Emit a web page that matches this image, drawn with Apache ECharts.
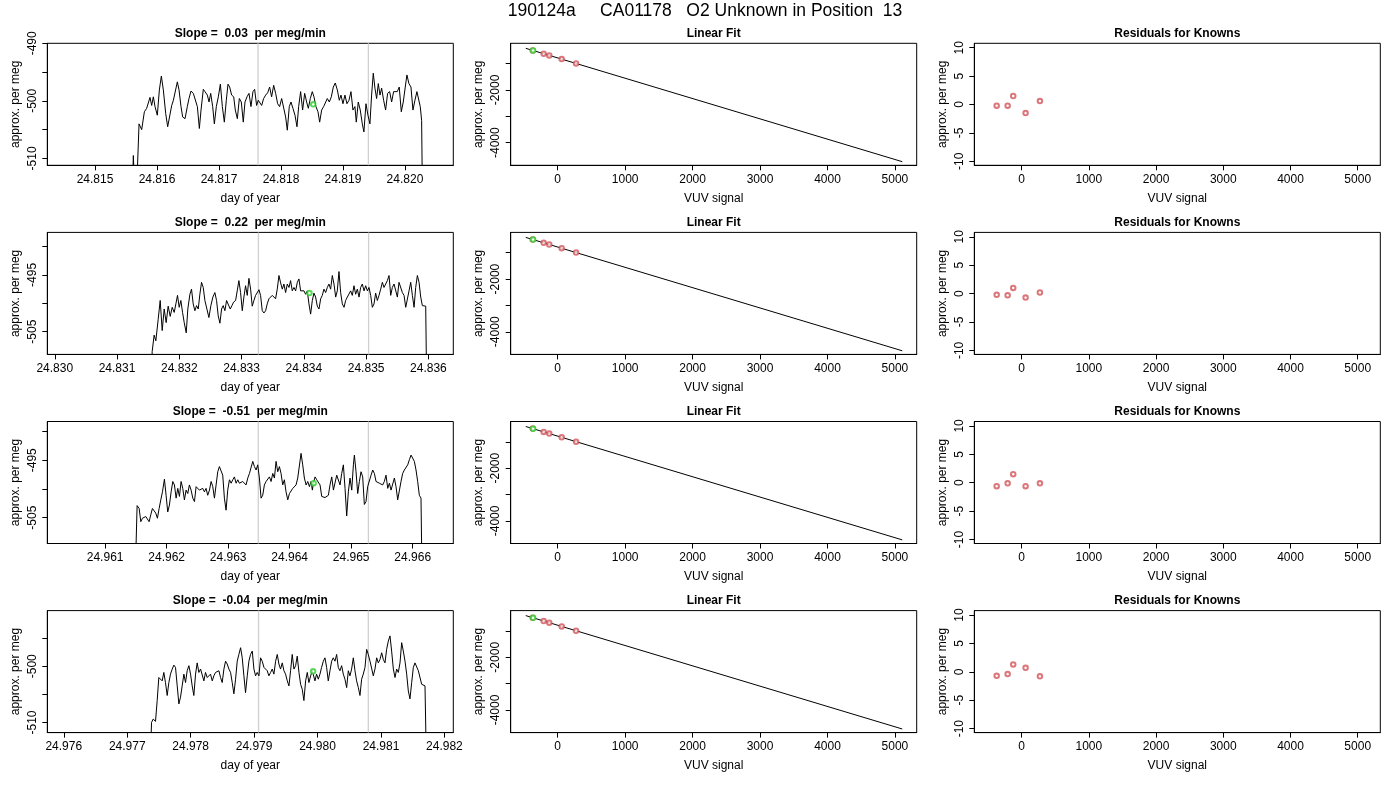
<!DOCTYPE html>
<html><head><meta charset="utf-8">
<script src="https://cdn.jsdelivr.net/npm/echarts@6/dist/echarts.min.js"></script>
<style>html,body{margin:0;padding:0;background:#fff}#c{width:1400px;height:800px}</style>
</head><body><div id="c"></div>
<script>
const FONT = '"Liberation Sans", Arial, Helvetica, sans-serif';
const mainTitle = '190124a     CA01178   O2 Unknown in Position  13';
const slopeTitles = ['Slope =  0.03  per meg/min', 'Slope =  0.22  per meg/min', 'Slope =  -0.51  per meg/min', 'Slope =  -0.04  per meg/min'];

// time series: [day of year, approx. per meg]
const series1 = [[24.815592,-520],[24.815618,-509.5],[24.815656,-520],[24.815710,-504.0],[24.815753,-505.0],[24.815796,-501.9],[24.815833,-501.3],[24.815860,-501.3],[24.815887,-499.4],[24.815914,-500.8],[24.815941,-499.3],[24.815968,-501.0],[24.816005,-502.5],[24.816038,-498.1],[24.816070,-495.7],[24.816102,-498.1],[24.816140,-502.2],[24.816172,-504.5],[24.816199,-504.4],[24.816237,-500.8],[24.816264,-499.9],[24.816290,-500.2],[24.816328,-496.7],[24.816355,-498.1],[24.816387,-501.0],[24.816414,-502.8],[24.816452,-503.1],[24.816489,-501.0],[24.816516,-499.6],[24.816548,-498.3],[24.816586,-498.7],[24.816613,-498.6],[24.816651,-501.0],[24.816683,-504.8],[24.816710,-501.6],[24.816747,-498.0],[24.816774,-498.4],[24.816812,-499.0],[24.816839,-500.2],[24.816866,-498.7],[24.816898,-501.0],[24.816925,-504.0],[24.816957,-501.0],[24.816989,-499.3],[24.817022,-497.1],[24.817054,-501.0],[24.817086,-503.7],[24.817118,-499.9],[24.817145,-497.1],[24.817172,-497.6],[24.817204,-499.0],[24.817237,-499.3],[24.817263,-501.6],[24.817296,-503.1],[24.817328,-499.6],[24.817360,-500.2],[24.817392,-503.7],[24.817419,-500.2],[24.817452,-499.3],[24.817484,-498.7],[24.817516,-501.0],[24.817548,-498.4],[24.817575,-498.0],[24.817607,-500.8],[24.817634,-499.9],[24.817661,-499.6],[24.817688,-500.8],[24.817720,-499.6],[24.817753,-499.0],[24.817785,-498.6],[24.817817,-497.6],[24.817849,-499.3],[24.817882,-497.3],[24.817914,-498.7],[24.817946,-500.5],[24.817978,-501.0],[24.818011,-499.6],[24.818043,-499.9],[24.818075,-502.8],[24.818102,-505.1],[24.818134,-501.0],[24.818161,-500.2],[24.818193,-501.3],[24.818226,-502.5],[24.818258,-504.5],[24.818285,-501.0],[24.818317,-498.4],[24.818349,-501.6],[24.818382,-498.7],[24.818414,-500.2],[24.818441,-501.3],[24.818473,-499.6],[24.818505,-498.4],[24.818532,-499.3],[24.818564,-501.0],[24.818597,-501.9],[24.818624,-503.7],[24.818656,-501.6],[24.818688,-501.0],[24.818720,-501.0],[24.818747,-499.6],[24.818780,-500.2],[24.818812,-499.3],[24.818844,-497.6],[24.818876,-496.9],[24.818909,-498.1],[24.818941,-499.9],[24.818968,-499.0],[24.819000,-500.5],[24.819032,-499.0],[24.819064,-500.5],[24.819097,-499.9],[24.819129,-498.4],[24.819161,-501.6],[24.819193,-501.0],[24.819215,-503.7],[24.819247,-500.2],[24.819279,-501.6],[24.819312,-504.0],[24.819338,-505.4],[24.819371,-500.5],[24.819403,-502.5],[24.819435,-504.0],[24.819462,-499.0],[24.819489,-495.2],[24.819516,-497.8],[24.819543,-499.6],[24.819570,-497.0],[24.819597,-499.0],[24.819624,-497.8],[24.819656,-499.9],[24.819688,-501.6],[24.819720,-498.7],[24.819753,-498.4],[24.819785,-500.2],[24.819817,-498.4],[24.819849,-498.7],[24.819876,-498.4],[24.819908,-497.6],[24.819941,-501.9],[24.819973,-500.2],[24.820005,-497.6],[24.820032,-495.5],[24.820064,-497.0],[24.820097,-497.6],[24.820129,-501.6],[24.820161,-499.9],[24.820193,-498.4],[24.820215,-498.7],[24.820247,-501.0],[24.820269,-503.4],[24.820285,-520]];

const series2 = [[24.831543,-520],[24.831564,-508.5],[24.831596,-505.6],[24.831623,-506.6],[24.831661,-502.8],[24.831693,-499.5],[24.831725,-504.8],[24.831757,-501.0],[24.831789,-503.4],[24.831821,-500.5],[24.831854,-502.3],[24.831886,-500.7],[24.831918,-501.6],[24.831945,-500.1],[24.831971,-498.6],[24.831998,-500.7],[24.832025,-499.5],[24.832052,-501.6],[24.832079,-503.4],[24.832111,-505.2],[24.832137,-501.0],[24.832170,-498.4],[24.832196,-497.5],[24.832223,-500.1],[24.832250,-501.3],[24.832277,-500.4],[24.832304,-501.0],[24.832330,-498.4],[24.832357,-496.3],[24.832384,-497.2],[24.832411,-499.5],[24.832443,-501.0],[24.832475,-502.5],[24.832507,-500.4],[24.832539,-498.9],[24.832571,-498.1],[24.832598,-499.5],[24.832625,-502.2],[24.832652,-503.5],[24.832679,-501.0],[24.832705,-500.4],[24.832732,-501.3],[24.832759,-499.5],[24.832791,-499.5],[24.832818,-501.0],[24.832845,-500.4],[24.832871,-499.8],[24.832904,-499.5],[24.832930,-497.8],[24.832957,-496.0],[24.832984,-498.1],[24.833011,-501.3],[24.833037,-498.9],[24.833064,-496.9],[24.833091,-498.6],[24.833118,-495.6],[24.833145,-497.5],[24.833171,-500.5],[24.833198,-499.5],[24.833225,-498.6],[24.833252,-498.9],[24.833279,-497.6],[24.833305,-498.6],[24.833332,-501.3],[24.833359,-501.7],[24.833386,-501.3],[24.833412,-500.1],[24.833439,-499.2],[24.833466,-499.5],[24.833493,-498.6],[24.833520,-498.9],[24.833546,-499.2],[24.833573,-497.5],[24.833600,-495.1],[24.833627,-496.4],[24.833654,-497.5],[24.833680,-496.6],[24.833707,-498.1],[24.833734,-496.6],[24.833761,-497.2],[24.833787,-496.0],[24.833814,-497.8],[24.833841,-497.2],[24.833868,-497.8],[24.833895,-496.3],[24.833921,-495.7],[24.833948,-497.8],[24.833975,-497.5],[24.834002,-497.8],[24.834028,-498.4],[24.834055,-497.8],[24.834082,-500.1],[24.834109,-501.9],[24.834136,-499.5],[24.834162,-498.2],[24.834189,-498.9],[24.834216,-500.5],[24.834243,-501.0],[24.834270,-499.2],[24.834296,-498.6],[24.834323,-497.5],[24.834350,-498.1],[24.834377,-497.2],[24.834403,-496.6],[24.834430,-497.5],[24.834457,-495.1],[24.834484,-496.6],[24.834511,-498.9],[24.834537,-497.8],[24.834564,-494.4],[24.834591,-498.1],[24.834618,-500.1],[24.834645,-500.7],[24.834671,-499.5],[24.834698,-498.9],[24.834725,-498.6],[24.834752,-497.8],[24.834778,-498.6],[24.834805,-496.9],[24.834832,-498.4],[24.834859,-497.5],[24.834886,-498.9],[24.834912,-497.2],[24.834939,-496.6],[24.834966,-497.8],[24.834993,-496.9],[24.835020,-497.8],[24.835046,-497.2],[24.835073,-498.6],[24.835100,-500.7],[24.835127,-500.1],[24.835153,-498.2],[24.835180,-499.5],[24.835207,-498.6],[24.835234,-497.5],[24.835261,-496.3],[24.835287,-497.2],[24.835314,-496.6],[24.835341,-496.0],[24.835368,-495.1],[24.835395,-498.6],[24.835421,-497.2],[24.835448,-496.6],[24.835475,-496.3],[24.835502,-498.9],[24.835528,-496.3],[24.835555,-496.6],[24.835582,-498.1],[24.835609,-498.6],[24.835636,-500.7],[24.835662,-501.0],[24.835689,-497.8],[24.835716,-496.3],[24.835743,-498.6],[24.835770,-500.7],[24.835796,-497.2],[24.835823,-495.1],[24.835850,-496.3],[24.835877,-498.9],[24.835903,-500.4],[24.835930,-500.1],[24.835957,-500.5],[24.835978,-520]];

const series3 = [[24.961477,-520],[24.961520,-502.9],[24.961553,-503.4],[24.961580,-505.7],[24.961607,-505.1],[24.961634,-505.4],[24.961661,-504.8],[24.961688,-504.5],[24.961715,-505.7],[24.961742,-504.5],[24.961769,-503.4],[24.961796,-503.1],[24.961823,-504.2],[24.961850,-505.1],[24.961878,-503.4],[24.961905,-501.9],[24.961932,-500.5],[24.961964,-498.3],[24.961991,-501.1],[24.962018,-504.0],[24.962045,-502.8],[24.962073,-500.5],[24.962100,-498.7],[24.962127,-499.3],[24.962154,-501.6],[24.962181,-499.9],[24.962208,-501.3],[24.962235,-498.7],[24.962262,-499.9],[24.962289,-501.9],[24.962316,-500.2],[24.962343,-500.8],[24.962370,-499.3],[24.962398,-500.2],[24.962425,-501.6],[24.962452,-502.2],[24.962479,-499.6],[24.962506,-499.9],[24.962533,-500.2],[24.962560,-500.2],[24.962587,-499.9],[24.962614,-500.5],[24.962641,-499.9],[24.962668,-501.1],[24.962696,-500.2],[24.962723,-498.7],[24.962750,-499.6],[24.962777,-501.6],[24.962804,-499.3],[24.962831,-497.0],[24.962858,-496.1],[24.962885,-495.8],[24.962912,-497.6],[24.962939,-501.6],[24.962966,-503.7],[24.962993,-500.2],[24.963021,-498.4],[24.963048,-499.0],[24.963075,-498.4],[24.963102,-497.9],[24.963129,-499.0],[24.963156,-498.4],[24.963183,-499.0],[24.963210,-498.7],[24.963237,-498.7],[24.963264,-499.0],[24.963291,-499.3],[24.963319,-498.1],[24.963346,-497.3],[24.963373,-497.0],[24.963400,-495.2],[24.963427,-496.1],[24.963454,-496.7],[24.963481,-495.8],[24.963508,-498.1],[24.963535,-501.6],[24.963562,-501.1],[24.963589,-499.3],[24.963616,-498.7],[24.963644,-498.4],[24.963671,-497.9],[24.963698,-498.7],[24.963725,-497.3],[24.963752,-498.1],[24.963779,-495.2],[24.963806,-497.0],[24.963833,-496.1],[24.963860,-497.3],[24.963887,-499.3],[24.963914,-498.4],[24.963941,-500.5],[24.963969,-501.9],[24.963996,-500.8],[24.964023,-500.5],[24.964050,-499.9],[24.964077,-500.2],[24.964104,-499.3],[24.964131,-498.1],[24.964158,-498.4],[24.964185,-493.8],[24.964212,-495.8],[24.964239,-498.1],[24.964267,-499.3],[24.964294,-498.7],[24.964321,-499.6],[24.964348,-498.7],[24.964369,-500.2],[24.964386,-499.0],[24.964413,-497.9],[24.964440,-498.4],[24.964467,-498.4],[24.964494,-499.3],[24.964521,-501.3],[24.964548,-501.6],[24.964575,-501.5],[24.964602,-501.3],[24.964629,-501.1],[24.964656,-499.3],[24.964684,-497.9],[24.964711,-500.2],[24.964738,-500.5],[24.964765,-497.6],[24.964792,-497.3],[24.964819,-499.3],[24.964846,-497.3],[24.964873,-495.8],[24.964900,-499.9],[24.964927,-504.7],[24.964954,-500.5],[24.964981,-498.1],[24.965009,-500.2],[24.965036,-495.8],[24.965052,-494.1],[24.965079,-497.0],[24.965106,-500.8],[24.965133,-498.7],[24.965160,-497.0],[24.965187,-497.9],[24.965214,-502.7],[24.965241,-502.2],[24.965268,-499.6],[24.965295,-499.6],[24.965323,-497.6],[24.965350,-496.7],[24.965377,-497.3],[24.965404,-498.7],[24.965431,-498.7],[24.965458,-499.0],[24.965485,-498.7],[24.965512,-499.3],[24.965539,-498.7],[24.965566,-497.6],[24.965594,-499.9],[24.965621,-499.0],[24.965648,-500.2],[24.965675,-499.9],[24.965702,-498.1],[24.965729,-499.6],[24.965756,-501.9],[24.965783,-501.9],[24.965810,-498.7],[24.965837,-497.3],[24.965864,-496.7],[24.965892,-496.4],[24.965919,-495.8],[24.965946,-494.9],[24.965973,-494.1],[24.966000,-494.4],[24.966027,-495.2],[24.966054,-496.7],[24.966081,-498.7],[24.966108,-501.1],[24.966135,-501.6],[24.966157,-520]];

const series4 = [[24.977356,-520],[24.977383,-510.0],[24.977409,-509.4],[24.977446,-509.8],[24.977472,-506.1],[24.977498,-502.0],[24.977525,-501.7],[24.977551,-502.6],[24.977577,-501.1],[24.977603,-502.9],[24.977630,-505.2],[24.977656,-502.9],[24.977682,-501.4],[24.977709,-500.5],[24.977735,-499.8],[24.977761,-500.2],[24.977788,-503.5],[24.977814,-506.7],[24.977840,-505.5],[24.977866,-503.5],[24.977893,-501.4],[24.977919,-502.9],[24.977945,-500.8],[24.977972,-499.9],[24.977998,-501.4],[24.978024,-503.5],[24.978050,-505.2],[24.978077,-501.4],[24.978103,-499.4],[24.978129,-501.1],[24.978156,-500.5],[24.978182,-500.8],[24.978208,-502.6],[24.978234,-501.1],[24.978261,-502.0],[24.978287,-502.3],[24.978313,-501.4],[24.978340,-502.6],[24.978366,-501.7],[24.978392,-501.1],[24.978418,-501.4],[24.978445,-500.8],[24.978471,-502.0],[24.978497,-502.9],[24.978524,-500.5],[24.978550,-499.1],[24.978576,-499.6],[24.978603,-500.5],[24.978629,-501.1],[24.978655,-502.9],[24.978681,-504.9],[24.978708,-502.3],[24.978734,-499.1],[24.978760,-497.9],[24.978787,-496.7],[24.978813,-498.5],[24.978839,-501.7],[24.978865,-504.7],[24.978892,-501.7],[24.978918,-499.1],[24.978944,-497.9],[24.978971,-497.3],[24.978997,-500.5],[24.979023,-501.7],[24.979049,-501.1],[24.979076,-501.7],[24.979102,-498.5],[24.979128,-499.1],[24.979155,-500.2],[24.979181,-499.9],[24.979207,-500.8],[24.979233,-501.7],[24.979260,-501.1],[24.979286,-500.5],[24.979312,-501.4],[24.979339,-499.1],[24.979365,-497.9],[24.979391,-499.6],[24.979417,-500.5],[24.979444,-499.4],[24.979470,-500.8],[24.979496,-501.4],[24.979523,-502.6],[24.979549,-503.5],[24.979575,-500.8],[24.979601,-497.9],[24.979628,-500.5],[24.979654,-499.9],[24.979680,-498.2],[24.979707,-501.1],[24.979733,-503.2],[24.979759,-504.1],[24.979785,-506.1],[24.979812,-502.6],[24.979838,-501.1],[24.979864,-502.9],[24.979891,-501.7],[24.979917,-500.8],[24.979933,-500.9],[24.979959,-502.6],[24.979985,-501.4],[24.980012,-502.3],[24.980038,-501.4],[24.980064,-500.2],[24.980091,-499.1],[24.980117,-498.5],[24.980143,-500.2],[24.980169,-502.6],[24.980196,-500.8],[24.980222,-499.1],[24.980248,-498.5],[24.980275,-499.1],[24.980301,-497.9],[24.980327,-500.2],[24.980353,-500.8],[24.980380,-499.9],[24.980406,-501.4],[24.980432,-502.3],[24.980459,-503.8],[24.980485,-500.8],[24.980511,-501.7],[24.980537,-500.5],[24.980564,-498.5],[24.980590,-500.8],[24.980616,-502.6],[24.980643,-503.8],[24.980669,-505.2],[24.980695,-502.3],[24.980721,-501.4],[24.980748,-500.2],[24.980774,-497.0],[24.980800,-497.9],[24.980827,-499.1],[24.980853,-499.4],[24.980879,-501.7],[24.980905,-500.5],[24.980932,-498.5],[24.980958,-499.4],[24.980984,-498.8],[24.981011,-497.6],[24.981037,-498.8],[24.981063,-499.4],[24.981089,-497.0],[24.981116,-495.5],[24.981142,-494.6],[24.981168,-497.3],[24.981195,-500.5],[24.981221,-502.0],[24.981247,-500.5],[24.981273,-501.1],[24.981300,-499.4],[24.981326,-495.8],[24.981352,-497.3],[24.981379,-499.1],[24.981405,-501.4],[24.981431,-504.4],[24.981457,-505.8],[24.981484,-502.9],[24.981510,-500.2],[24.981536,-499.4],[24.981563,-499.1],[24.981589,-500.8],[24.981615,-500.5],[24.981641,-503.2],[24.981668,-502.9],[24.981694,-503.5],[24.981720,-520]];

const timeSeries = [series1, series2, series3, series4];
const unknownPoints = [[24.81852,-500.6],[24.83409,-498.2],[24.96439,-499.0],[24.97993,-500.9]];
const greyLines = [[24.81763,24.81941],[24.83327,24.83504],[24.96349,24.96528],[24.97907,24.98080]];
const dayRanges = [[24.81423,24.82078],[24.82988,24.83640],[24.96006,24.96666],[24.97574,24.98214]];
const dayTicks = [[24.815,24.816,24.817,24.818,24.819,24.820],[24.830,24.831,24.832,24.833,24.834,24.835,24.836],[24.961,24.962,24.963,24.964,24.965,24.966],[24.976,24.977,24.978,24.979,24.980,24.981,24.982]];
const megRanges = [[-511.2,-490.0],[-509.0,-487.5],[-509.5,-488.25],[-511.8,-490.1]];
const megTicks = [[-490,-495,-500,-505,-510],[-490,-495,-500,-505],[-490,-495,-500,-505],[-495,-500,-505,-510]];
const megLabels = [[-490,-500,-510],[-495,-505],[-495,-505],[-500,-510]];

// linear fit panels
const fitX = [-474, 5109];
const fitY = [-418, -4721];
const knownX = [-371, -208, -125, 59, 272];
const knownY = [-497, -623, -687, -828, -993];
const unknownVUV = [-365, -500];
const vuvRange = [-697, 5323];
const vuvTicks = [0, 1000, 2000, 3000, 4000, 5000];
const fitRange = [-4858, -228];
const fitTicks = [-1000, -2000, -3000, -4000];
const fitLabels = [-2000, -4000];

// residual panels
const residRange = [-10.7, 10.78];
const residTicks = [-10, -5, 0, 5, 10];
const residVuvRange = [-704, 5336];
const residuals = [[-0.2,-0.2,1.5,-1.5,0.6],[-0.2,-0.3,1.0,-0.7,0.2],[-0.6,-0.1,1.5,-0.6,-0.1],[-0.7,-0.4,1.3,0.7,-0.8]];

const GL = [47.3, 510.7, 974.3];
const GT = [43.3, 232.4, 421.5, 610.6];
const GW = 406, GH = 122;
const RED = '#d2545a', GREEN = '#2fd02f';

const grids = [], xAxes = [], yAxes = [], seriesList = [], graphics = [];
graphics.push({type:'text', x: 705, y: 11, style:{text: mainTitle, font: '17.5px ' + FONT, fill:'#000', textAlign:'center', textVerticalAlign:'middle'}});

function xAxis(gi, range, ticks, fmt, name) {
  return {type:'value', gridIndex: gi, min: range[0], max: range[1], name: name, nameLocation:'middle', nameGap: 27,
    nameTextStyle:{fontSize:12, color:'#000', fontFamily: FONT},
    axisLine:{show:true, onZero:false, lineStyle:{color:'#000', width:1}},
    axisTick:{show:true, inside:false, length:5, customValues: ticks, lineStyle:{color:'#000', width:1}},
    axisLabel:{customValues: ticks, formatter: fmt, fontSize:12, color:'#000', margin:8, fontFamily: FONT},
    splitLine:{show:false}};
}
function yAxis(gi, range, ticks, labels) {
  return {type:'value', gridIndex: gi, min: range[0], max: range[1], name:'approx. per meg', nameLocation:'middle', nameGap: 26, nameRotate: 90,
    nameTextStyle:{fontSize:12, color:'#000', fontFamily: FONT},
    axisLine:{show:true, onZero:false, lineStyle:{color:'#000', width:1}},
    axisTick:{show:true, inside:false, length:5, customValues: ticks, lineStyle:{color:'#000', width:1}},
    axisLabel:{customValues: labels, formatter: v => String(v), rotate: 90, fontSize:12, color:'#000', margin:9, fontFamily: FONT},
    splitLine:{show:false}};
}

for (let r = 0; r < 4; r++) {
  const titles = [slopeTitles[r], 'Linear Fit', 'Residuals for Knowns'];
  for (let c = 0; c < 3; c++) {
    grids.push({left: GL[c], top: GT[r], width: GW, height: GH, show: true, borderColor:'#000', borderWidth:1, backgroundColor:'transparent'});
    graphics.push({type:'text', x: GL[c] + GW/2, y: GT[r] - 10, style:{text: titles[c], font: 'bold 12px ' + FONT, fill:'#000', textAlign:'center', textVerticalAlign:'middle'}});
  }
  const g0 = r*3, g1 = r*3+1, g2 = r*3+2;
  xAxes.push(xAxis(g0, dayRanges[r], dayTicks[r], v => v.toFixed(3), 'day of year'));
  yAxes.push(yAxis(g0, megRanges[r], megTicks[r], megLabels[r]));
  xAxes.push(xAxis(g1, vuvRange, vuvTicks, v => String(v), 'VUV signal'));
  yAxes.push(yAxis(g1, fitRange, fitTicks, fitLabels));
  xAxes.push(xAxis(g2, residVuvRange, vuvTicks, v => String(v), 'VUV signal'));
  yAxes.push(yAxis(g2, residRange, residTicks, residTicks));

  // grey vertical reference lines spanning the panel
  greyLines[r].forEach(v => {
    seriesList.push({type:'line', xAxisIndex: g0, yAxisIndex: g0, data: [[v, megRanges[r][0]], [v, megRanges[r][1]]],
      showSymbol:false, symbol:'none', silent:true, lineStyle:{color:'#d0d0d0', width:1.3}, z:1});
  });
  seriesList.push({type:'line', xAxisIndex: g0, yAxisIndex: g0, data: timeSeries[r], showSymbol:false, symbol:'none',
    lineStyle:{color:'#000', width:1}, clip:true, z:3});
  seriesList.push({type:'scatter', xAxisIndex: g0, yAxisIndex: g0, data:[unknownPoints[r]], symbol:'emptyCircle', symbolSize:4.5,
    itemStyle:{color: GREEN, borderColor: GREEN, borderWidth:1}, z:5});

  seriesList.push({type:'line', xAxisIndex: g1, yAxisIndex: g1, data: fitX.map((x,i) => [x, fitY[i]]), showSymbol:false, symbol:'none',
    lineStyle:{color:'#000', width:1}, z:2});
  seriesList.push({type:'scatter', xAxisIndex: g1, yAxisIndex: g1, data: knownX.map((x,i) => [x, knownY[i]]), symbol:'emptyCircle', symbolSize:4.5,
    itemStyle:{color: RED, borderColor: RED, borderWidth:0.9}, z:3});
  seriesList.push({type:'scatter', xAxisIndex: g1, yAxisIndex: g1, data:[unknownVUV], symbol:'emptyCircle', symbolSize:4.5,
    itemStyle:{color: GREEN, borderColor: GREEN, borderWidth:1.1}, z:4});

  seriesList.push({type:'scatter', xAxisIndex: g2, yAxisIndex: g2, data: knownX.map((x,i) => [x, residuals[r][i]]), symbol:'emptyCircle', symbolSize:4.5,
    itemStyle:{color: RED, borderColor: RED, borderWidth:0.9}, z:3});
}

const chart = echarts.init(document.getElementById('c'), null, {renderer:'canvas'});
chart.setOption({animation:false, backgroundColor:'#fff', textStyle:{fontFamily: FONT},
  grid: grids, xAxis: xAxes, yAxis: yAxes, series: seriesList, graphic: graphics});
</script>
</body></html>
